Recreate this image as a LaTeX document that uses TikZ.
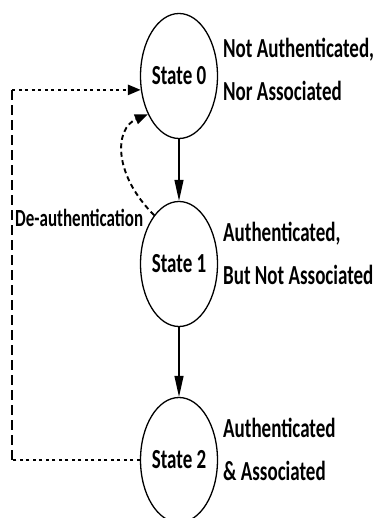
\documentclass[tikz,border=0pt]{standalone}
\usepackage{fontspec}
\setmainfont{Carlito}
\usetikzlibrary{arrows.meta,shapes.geometric}
\newcommand{\vstretch}[1]{\scalebox{1}[1.45]{#1}}
\newcommand{\twoline}[2]{\scalebox{1}[1.45]{\begin{tabular}[t]{@{}l@{}}#1\\#2\end{tabular}}}
\begin{document}
\begin{tikzpicture}[x=1pt,y=1pt,
  state/.style={ellipse,draw,line width=1.3pt,minimum width=68pt,minimum height=125pt,inner sep=0pt,
    font=\fontsize{19}{29}\selectfont\bfseries},
  desc/.style={anchor=base west,inner sep=0pt,font=\fontsize{19}{29}\selectfont\bfseries},
  trans/.style={line width=1.2pt,-{Triangle[length=21pt,width=9pt]}},
  dotline/.style={line width=2.6pt,dash pattern=on 3pt off 3.5pt},
  dashline/.style={line width=2.4pt,dash pattern=on 10pt off 5pt},
  curveline/.style={line width=1.9pt,dash pattern=on 5pt off 3.5pt},
  tipB/.style={-{Triangle[length=13pt,width=10pt]}}]
\useasboundingbox (0,0) rectangle (378,518);
\node[state] (s0) at (179,442) {\raisebox{-4pt}{\vstretch{State 0}}};
\node[state] (s1) at (179,254) {\raisebox{-1.5pt}{\vstretch{State 1}}};
\node[state] (s2) at (179,58) {\raisebox{-2pt}{\vstretch{State 2}}};
\node[desc] (d0) at (223,460) {\twoline{Not Authenticated,}{Nor Associated}};
\node[desc] (d1) at (223,276) {\twoline{Authenticated,}{But Not Associated}};
\node[desc] (d2) at (223,80) {\twoline{Authenticated}{\& Associated}};
\node[anchor=base west,inner sep=0pt,font=\fontsize{17}{20}\selectfont\bfseries] (de) at (15,291) {\vstretch{De-authentication}};
\draw[trans] (s0) -- (s1);
\draw[trans] (s1) -- (s2);
\coordinate (L) at (12,0);
\coordinate (c1) at (L |- s2.west);
\coordinate (c2) at (L |- s0.200);
\draw[dotline] (s2.west) -- (c1);
\draw[dashline] (c1) -- (c2);
\draw[dotline,tipB] (c2) -- (s0.200);
\draw[curveline,tipB] (s1.117) .. controls (112,345) and (115,390) .. (s0.231);
\end{tikzpicture}
\end{document}
